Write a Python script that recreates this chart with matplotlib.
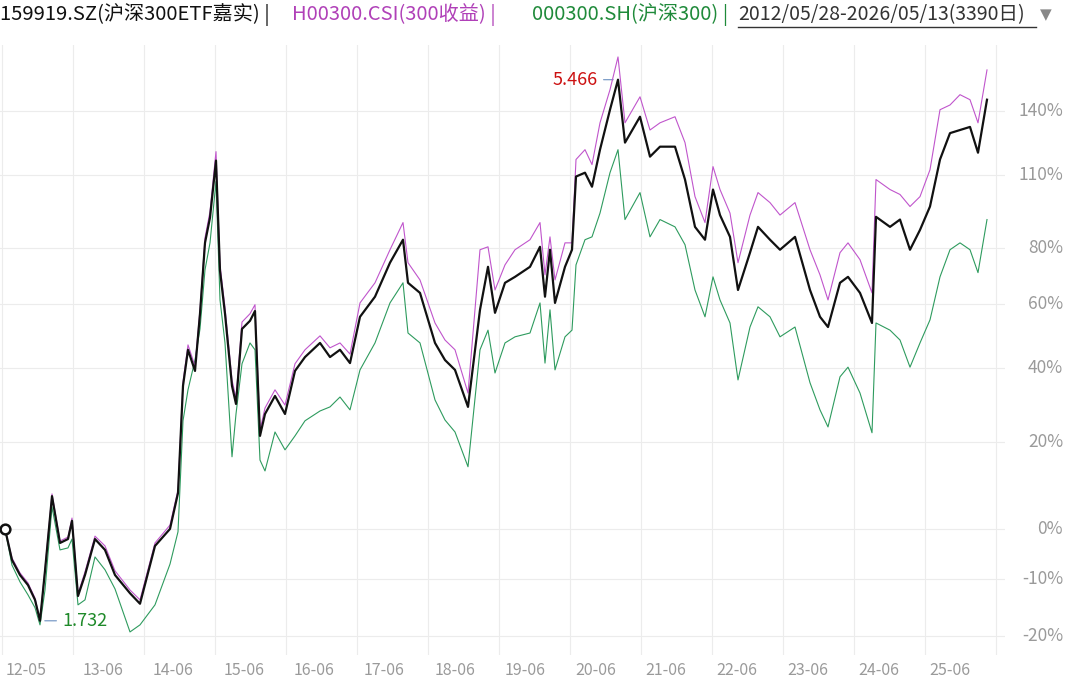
import matplotlib
matplotlib.use("Agg")
import numpy as np
import matplotlib.pyplot as plt
from matplotlib.ticker import NullLocator

plt.rcParams['font.family'] = ['Noto Sans CJK SC', 'DejaVu Sans']

# sample positions along the trading-session axis (0..1005 scale)
session = [5, 12, 20, 28, 35, 40, 45, 52, 60, 68, 72, 78, 85, 95, 105, 115, 130, 140, 155, 170,
           178, 183, 188, 195, 200, 205, 210, 216, 220, 225, 232, 236, 242, 250, 255, 260, 265, 275, 285, 295,
           305, 320, 330, 340, 350, 360, 375, 390, 403, 408, 420, 435, 445, 455, 468, 480, 488, 495, 505, 515,
           530, 540, 545, 550, 555, 565, 572, 576, 585, 592, 600, 610, 618, 625, 640, 650, 660, 675, 685, 695,
           705, 713, 720, 730, 738, 750, 758, 770, 780, 795, 810, 820, 828, 840, 848, 860, 872, 876, 890, 900,
           910, 920, 930, 940, 950, 960, 970, 978, 987]

# cumulative return, %
etf = [0, -6.3, -9.2, -11.1, -13.8, -17.5, -8.4, 7.1, -2.9, -2.1, 1.7, -13.1, -9.2, -2.1, -4.3, -9.2, -12.6, -14.5, -3.5, 0,
       7.8, 34.9, 45.5, 39.2, 56.9, 82.0, 91.9, 116.2, 71.7, 56.9, 34.9, 29.9, 52.0, 54.6, 57.8, 21.5, 27.2, 32.1, 27.2, 39.2,
       43.3, 47.6, 43.3, 45.5, 41.5, 55.9, 62.6, 74.6, 83.2, 67.4, 63.9, 47.6, 42.4, 39.5, 29.1, 58.2, 73.1, 57.2, 67.4, 69.5,
       73.1, 80.5, 62.6, 79.4, 60.5, 73.1, 79.4, 109.1, 110.8, 104.7, 121.2, 140.5, 156.1, 124.5, 137.0, 118.0, 122.6, 122.6, 107.8, 88.2,
       83.2, 103.5, 92.9, 84.3, 64.9, 78.3, 88.2, 83.2, 79.4, 84.3, 64.9, 55.9, 52.6, 67.4, 69.5, 63.9, 53.9, 92.2, 88.2, 91.1,
       79.4, 87.0, 96.4, 116.7, 129.0, 130.5, 132.0, 119.8, 145.6]

csi_tr = [0, -5.9, -8.8, -10.7, -13.5, -17.4, -8.0, 7.6, -2.5, -1.7, 2.3, -12.7, -8.6, -1.5, -3.5, -8.4, -12.0, -13.8, -2.9, 0.8,
          8.5, 36.0, 47.0, 40.6, 58.2, 83.9, 94.3, 120.3, 73.8, 58.9, 36.6, 31.5, 54.2, 56.9, 59.9, 23.0, 28.8, 33.8, 29.6, 41.3,
          45.5, 49.8, 46.1, 47.6, 44.2, 60.5, 67.4, 79.4, 89.9, 74.6, 68.4, 53.9, 48.5, 45.5, 32.9, 79.4, 80.5, 64.9, 73.8, 79.4,
          83.2, 89.9, 70.2, 84.3, 68.4, 82.0, 82.0, 116.7, 121.2, 114.4, 134.0, 150.8, 168.6, 134.0, 147.1, 130.5, 134.0, 137.0, 124.5, 100.5,
          89.9, 113.5, 103.5, 93.7, 74.6, 92.9, 102.2, 98.0, 92.9, 98.0, 79.4, 70.2, 61.5, 78.3, 82.0, 75.7, 63.9, 107.8, 103.5, 101.4,
          96.4, 100.5, 112.1, 140.5, 142.9, 148.2, 145.6, 134.0, 161.4]

csi300 = [0, -7.3, -10.5, -12.9, -15.2, -18.2, -12.0, 4.7, -4.3, -3.9, -2.1, -14.7, -13.8, -5.7, -8.2, -11.8, -19.4, -18.2, -14.7, -7.1,
          -0.6, 25.4, 33.8, 42.4, 52.0, 72.0, 82.0, 106.9, 61.5, 47.6, 16.3, 27.2, 41.3, 47.6, 45.5, 15.5, 12.9, 22.5, 18.0, 21.5,
          25.4, 28.0, 29.1, 31.8, 28.3, 39.5, 47.6, 60.5, 67.4, 50.7, 47.6, 31.0, 25.6, 22.5, 13.9, 45.5, 51.6, 38.6, 47.6, 49.5,
          50.7, 60.5, 41.5, 58.2, 39.5, 49.5, 51.6, 73.8, 83.2, 84.3, 93.7, 110.8, 121.2, 91.1, 102.2, 84.3, 91.1, 88.2, 81.3, 64.9,
          55.9, 69.5, 61.5, 53.9, 36.6, 52.6, 59.2, 55.9, 49.5, 52.6, 35.8, 28.3, 23.8, 37.5, 40.3, 32.9, 22.3, 53.9, 51.6, 48.5,
          40.3, 47.6, 54.9, 69.5, 79.4, 82.0, 79.4, 71.0, 91.1]

ytick_pct = [-20, -10, 0, 20, 40, 60, 80, 110, 140]
xtick_labels = ["12-05", "13-06", "14-06", "15-06", "16-06", "17-06", "18-06",
                "19-06", "20-06", "21-06", "22-06", "23-06", "24-06", "25-06"]
xtick_session = [6, 83, 153, 224, 294, 364, 435, 505, 575, 645, 716, 787, 858, 929]

BLACK, PURPLE, GREEN = "#111111", "#c055cc", "#2e9b5e"

x = np.array(session)
r = lambda p: 1 + np.array(p) / 100.0

fig = plt.figure(figsize=(10.8, 6.84), dpi=100)
ax = fig.add_axes([0, 29 / 684, 1005 / 1080, 610 / 684])
ax.set_yscale("log")
ax.set_xlim(0, 1005)
ax.set_ylim(0.768, 2.754)

ax.plot(x, r(csi300), color=GREEN, lw=0.8, zorder=3)
ax.plot(x, r(csi_tr), color=PURPLE, lw=0.8, zorder=4)
ax.plot(x, r(etf), color=BLACK, lw=1.6, zorder=5)
ax.plot(x[0], r(etf)[0], 'o', ms=7, mfc='white', mec=BLACK, mew=1.8, zorder=6)

# grid
for v in ytick_pct:
    ax.axhline(1 + v / 100, color="#ececec", lw=0.8, zorder=1)
for gx in np.arange(2, 1010, 71):
    ax.axvline(gx, color="#ececec", lw=0.8, zorder=1)

ax.yaxis.set_major_locator(NullLocator())
ax.yaxis.set_minor_locator(NullLocator())
ax.set_xticks([])
for s in ax.spines.values():
    s.set_visible(False)

for v in ytick_pct:
    ax.text(1063 / 1005, 1 + v / 100, f"{v}%", ha="right", va="center", color="#9a9a9a", fontsize=12.5,
            transform=ax.get_yaxis_transform(), clip_on=False)

for lab, sx in zip(xtick_labels, xtick_session):
    ax.text(sx, -0.012, lab, ha="left", va="top", color="#9a9a9a", fontsize=11.5,
            transform=ax.get_xaxis_transform(), clip_on=False)

# max / min annotations
imax = int(np.argmax(etf)); imin = int(np.argmin(etf))
ax.annotate("5.466", xy=(x[imax] - 2, r(etf)[imax]), xytext=(x[imax] - 20, r(etf)[imax]),
            color="#cc1111", fontsize=13, ha="right", va="center",
            arrowprops=dict(arrowstyle="-", color="#6a8fc0", lw=0.8))
ax.annotate("1.732", xy=(x[imin] + 2, r(etf)[imin]), xytext=(x[imin] + 22, r(etf)[imin]),
            color="#1f8a2a", fontsize=13, ha="left", va="center",
            arrowprops=dict(arrowstyle="-", color="#6a8fc0", lw=0.8))

# header
hy = 1 - 15 / 684
fs = 14.5
fig.text(0.0, hy, "159919.SZ(沪深300ETF嘉实) |", color=BLACK, fontsize=fs, va="center")
fig.text(292 / 1080, hy, "H00300.CSI(300收益) |", color="#b040b8", fontsize=fs, va="center")
fig.text(532 / 1080, hy, "000300.SH(沪深300) |", color="#1f8a3a", fontsize=fs, va="center")
fig.text(738 / 1080, hy, "2012/05/28-2026/05/13(3390日)", color="#333333", fontsize=14, va="center")
fig.add_artist(plt.Line2D([738 / 1080, 1036 / 1080], [1 - 27 / 684] * 2, color="#333333", lw=1))
fig.text(1040 / 1080, hy, "▼", color="#888888", fontsize=11, va="center", family=['DejaVu Sans'])

fig.savefig("out.png", dpi=100, facecolor="white")
